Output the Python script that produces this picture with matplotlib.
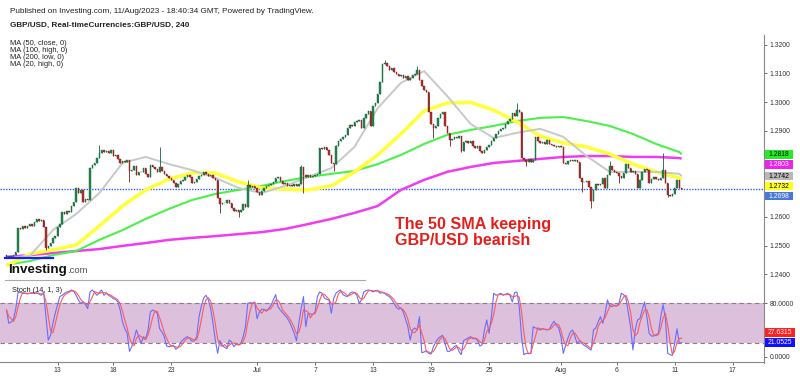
import numpy as np
import pandas as pd
import matplotlib
matplotlib.use('Agg')
import matplotlib.pyplot as plt
from matplotlib.patches import Rectangle
from matplotlib.lines import Line2D

plt.rcParams['font.family'] = ['Liberation Sans', 'DejaVu Sans']

# GBP/USD 4h closes (7 Jun 12:00 -> 11 Aug 12:00)
closes = [
    1.2460, 1.2464, 1.2457, 1.2467, 1.2478, 1.2561, 1.2558, 1.2568, 1.2561, 1.2568,
    1.2575, 1.2568, 1.2582, 1.2593, 1.2586, 1.2589, 1.2566, 1.2491, 1.2499, 1.2509,
    1.2527, 1.2533, 1.2565, 1.2575, 1.2617, 1.2610, 1.2621, 1.2617, 1.2638, 1.2652,
    1.2701, 1.2683, 1.2694, 1.2652, 1.2662, 1.2659, 1.2770, 1.2781, 1.2788, 1.2805,
    1.2823, 1.2833, 1.2826, 1.2830, 1.2823, 1.2833, 1.2812, 1.2816, 1.2802, 1.2788,
    1.2795, 1.2791, 1.2798, 1.2760, 1.2763, 1.2777, 1.2746, 1.2757, 1.2757, 1.2770,
    1.2750, 1.2739, 1.2781, 1.2774, 1.2767, 1.2757, 1.2774, 1.2760, 1.2750, 1.2743,
    1.2736, 1.2729, 1.2718, 1.2704, 1.2715, 1.2725, 1.2729, 1.2739, 1.2746, 1.2739,
    1.2718, 1.2722, 1.2732, 1.2743, 1.2746, 1.2757, 1.2750, 1.2743, 1.2746, 1.2736,
    1.2729, 1.2666, 1.2645, 1.2649, 1.2649, 1.2659, 1.2649, 1.2631, 1.2621, 1.2624,
    1.2617, 1.2624, 1.2645, 1.2635, 1.2711, 1.2704, 1.2708, 1.2701, 1.2687, 1.2676,
    1.2690, 1.2701, 1.2708, 1.2711, 1.2715, 1.2722, 1.2736, 1.2739, 1.2725, 1.2715,
    1.2718, 1.2708, 1.2711, 1.2708, 1.2715, 1.2708, 1.2715, 1.2774, 1.2746, 1.2739,
    1.2746, 1.2739, 1.2743, 1.2746, 1.2750, 1.2840, 1.2837, 1.2844, 1.2833, 1.2816,
    1.2788, 1.2784, 1.2847, 1.2865, 1.2872, 1.2879, 1.2885, 1.2910, 1.2921, 1.2917,
    1.2931, 1.2934, 1.2938, 1.2910, 1.2945, 1.2959, 1.2969, 1.2917, 1.2986, 1.2997,
    1.3028, 1.3070, 1.3133, 1.3136, 1.3126, 1.3112, 1.3119, 1.3105, 1.3098, 1.3091,
    1.3094, 1.3084, 1.3091, 1.3077, 1.3084, 1.3094, 1.3098, 1.3112, 1.3077, 1.3056,
    1.3042, 1.3035, 1.2966, 1.2924, 1.2910, 1.2917, 1.2945, 1.2959, 1.2966, 1.2917,
    1.2893, 1.2868, 1.2872, 1.2879, 1.2875, 1.2882, 1.2830, 1.2861, 1.2865, 1.2858,
    1.2865, 1.2847, 1.2840, 1.2847, 1.2830, 1.2823, 1.2833, 1.2844, 1.2851, 1.2865,
    1.2875, 1.2889, 1.2900, 1.2907, 1.2910, 1.2924, 1.2934, 1.2941, 1.2962, 1.2952,
    1.2972, 1.2966, 1.2805, 1.2798, 1.2791, 1.2802, 1.2791, 1.2798, 1.2879, 1.2865,
    1.2858, 1.2861, 1.2854, 1.2868, 1.2854, 1.2851, 1.2847, 1.2844, 1.2847, 1.2844,
    1.2788, 1.2784, 1.2795, 1.2798, 1.2795, 1.2798, 1.2791, 1.2736, 1.2722, 1.2722,
    1.2725, 1.2704, 1.2655, 1.2694, 1.2715, 1.2711, 1.2715, 1.2736, 1.2701, 1.2746,
    1.2777, 1.2763, 1.2757, 1.2753, 1.2743, 1.2736, 1.2753, 1.2784, 1.2770, 1.2757,
    1.2760, 1.2750, 1.2701, 1.2729, 1.2757, 1.2767, 1.2763, 1.2718, 1.2732, 1.2739,
    1.2732, 1.2729, 1.2736, 1.2763, 1.2718, 1.2676, 1.2673, 1.2680, 1.2701, 1.2729,
    1.2701, 1.2698,
]
first_open = 1.2466

# the longer wicks that stand out (bar index -> price)
wick_highs = {40: 1.2851, 66: 1.2845, 104: 1.2729, 127: 1.2781, 142: 1.2851,
              163: 1.3147, 177: 1.3126, 220: 1.2998, 260: 1.2795, 283: 1.2822}
wick_lows = {17: 1.2485, 53: 1.2723, 92: 1.2614, 100: 1.2601, 128: 1.2683,
             141: 1.2760, 184: 1.2875, 191: 1.2847, 196: 1.2825, 224: 1.2777,
             248: 1.2688, 252: 1.2630, 264: 1.2718, 285: 1.2670}

# moving averages, one value every 10 bars plus the last bar
ma_step = 10
ma20_high = [1.2457, 1.2464, 1.2554, 1.2610, 1.2683, 1.2788, 1.2809, 1.2784, 1.2763, 1.2736,
             1.2701, 1.2683, 1.2708, 1.2739, 1.2770, 1.2844, 1.2979, 1.3067, 1.3108, 1.3021,
             1.2924, 1.2875, 1.2893, 1.2907, 1.2879, 1.2812, 1.2757, 1.2757, 1.2757, 1.2750,
             1.2742]
ma50_close = [1.2429, 1.2471, 1.2485, 1.2502, 1.2568, 1.2638, 1.2694, 1.2732, 1.2753, 1.2753,
              1.2722, 1.2701, 1.2697, 1.2694, 1.2708, 1.2757, 1.2816, 1.2889, 1.2969, 1.2997,
              1.2999, 1.2972, 1.2931, 1.2882, 1.2858, 1.2844, 1.2819, 1.2784, 1.2757, 1.2736,
              1.2732]
ma100_high = [1.2433, 1.2446, 1.2467, 1.2481, 1.2520, 1.2554, 1.2593, 1.2628, 1.2659, 1.2680,
              1.2694, 1.2708, 1.2725, 1.2739, 1.2750, 1.2760, 1.2784, 1.2816, 1.2854, 1.2886,
              1.2903, 1.2917, 1.2934, 1.2945, 1.2948, 1.2934, 1.2917, 1.2889, 1.2854, 1.2826,
              1.2818]
ma200_low = [1.2460, 1.2467, 1.2474, 1.2481, 1.2488, 1.2499, 1.2509, 1.2520, 1.2527, 1.2533,
             1.2540, 1.2547, 1.2558, 1.2575, 1.2593, 1.2614, 1.2638, 1.2694, 1.2729, 1.2757,
             1.2774, 1.2788, 1.2795, 1.2802, 1.2809, 1.2812, 1.2812, 1.2809, 1.2809, 1.2805,
             1.2803]

# Stoch %K (14, 1), one value per bar
stoch_k = [
    70, 50, 52, 56, 72, 97, 96, 95, 95, 94, 95, 96, 96, 95, 94, 92, 97, 60, 25, 32,
    50, 65, 78, 90, 92, 95, 97, 98, 100, 98, 92, 85, 80, 82, 78, 72, 97, 100, 96, 92,
    96, 100, 92, 95, 92, 90, 87, 86, 82, 70, 52, 42, 35, 8, 15, 27, 40, 30, 20, 30,
    27, 40, 67, 70, 68, 65, 42, 37, 30, 16, 15, 16, 17, 11, 14, 21, 25, 28, 30, 27,
    23, 24, 30, 60, 76, 88, 92, 85, 72, 50, 25, 5, 24, 17, 14, 12, 25, 22, 15, 19,
    18, 20, 30, 45, 80, 81, 80, 82, 57, 67, 71, 71, 68, 72, 77, 85, 93, 75, 70, 66,
    62, 58, 52, 44, 35, 24, 50, 72, 90, 45, 65, 64, 63, 67, 90, 97, 95, 88, 86, 85,
    65, 87, 95, 98, 100, 93, 91, 90, 95, 97, 96, 92, 80, 85, 97, 99, 100, 99, 97, 99,
    99, 95, 96, 95, 92, 90, 86, 80, 74, 71, 73, 67, 56, 45, 25, 40, 43, 40, 60, 6,
    7, 9, 5, 4, 15, 22, 27, 30, 32, 20, 8, 8, 12, 15, 17, 8, 3, 24, 26, 28,
    30, 27, 27, 25, 16, 18, 40, 55, 35, 60, 95, 92, 93, 95, 92, 93, 95, 92, 82, 96,
    97, 75, 30, 3, 5, 5, 5, 45, 43, 42, 40, 42, 41, 40, 41, 48, 53, 47, 43, 30,
    5, 17, 28, 37, 40, 30, 20, 24, 20, 17, 15, 12, 10, 40, 43, 52, 60, 50, 65, 85,
    76, 75, 77, 76, 80, 95, 93, 88, 67, 45, 10, 40, 55, 57, 70, 82, 60, 35, 31, 31,
    33, 35, 60, 78, 57, 5, 3, 2, 20, 41.842, 20, 21.0525,
]

tick_dates = ['2023-06-13', '2023-06-18', '2023-06-23', '2023-07-01', '2023-07-07', '2023-07-13',
              '2023-07-19', '2023-07-25', '2023-08-01', '2023-08-06', '2023-08-11', '2023-08-17']
tick_labels = ['13', '18', '23', 'Jul', '7', '13', '19', '25', 'Aug', '6', '11', '17']

W, H = 800, 376


def bar_times(start, count):
    # 4h FX bars: six a day Mon-Fri, one on Sunday evening
    out = []
    t = pd.Timestamp(start)
    while len(out) < count:
        if t.weekday() < 5 or (t.weekday() == 6 and t.hour == 20):
            out.append(t)
        t += pd.Timedelta(hours=4)
    return pd.DatetimeIndex(out)


def fx(x):
    return x / W


def fy(y):
    return 1 - y / H


def tag(fig, yc, text, bg, fg, width=28):
    fig.add_artist(Rectangle((fx(764.5), fy(yc + 4.3)), width / W, 8.6 / H,
                             transform=fig.transFigure, facecolor=bg, edgecolor='none', zorder=5))
    fig.text(fx(764.5 + width / 2), fy(yc), text, ha='center', va='center',
             fontsize=4.9, color=fg, zorder=6)


n = len(closes)
x = np.arange(n)
c = np.array(closes)
o = np.r_[first_open, c[:-1]]
body_lo = np.minimum(o, c)
hi = np.maximum(o, c)
lo = body_lo.copy()
for i, v in wick_highs.items():
    hi[i] = v
for i, v in wick_lows.items():
    lo[i] = v
up = c >= o
body_col = np.where(up, '#1f8a4c', '#b3302c')
edge_col = np.where(up, '#14633a', '#7d1f1c')

ma_x = np.r_[np.arange(0, n, ma_step), n - 1]

times = bar_times('2023-06-07 12:00', 330)
tick_pos = [int(np.searchsorted(times, pd.Timestamp(d))) for d in tick_dates]

fig = plt.figure(figsize=(8, 3.76), dpi=100)
fig.patch.set_facecolor('white')

xlim = (-2.8, 326.5)
ax = fig.add_axes([0, fy(281), fx(764), (281 - 35) / H])
ax2 = fig.add_axes([0, fy(362), fx(764), (362 - 283) / H])

# price panel
ax.plot(ma_x, ma200_low, color='#f03cf0', lw=1.8, zorder=2, solid_capstyle='butt')
ax.plot(ma_x, ma100_high, color='#4cf04c', lw=1.5, zorder=2, solid_capstyle='butt')
ax.plot(ma_x, ma50_close, color='#ffff40', lw=2.6, zorder=2, solid_capstyle='butt')
ax.plot(ma_x, ma20_high, color='#c8c8c8', lw=1.4, zorder=2, solid_capstyle='butt')
ax.vlines(x, lo, hi, colors=edge_col, lw=0.6, zorder=3)
ax.bar(x, np.maximum(np.abs(c - o), 0.00012), bottom=body_lo,
       width=0.62, color=body_col, edgecolor=edge_col, lw=0.3, zorder=4)
ax.axhline(c[-1], color='#2a5cff', lw=1.0, ls=(0, (1, 1)), zorder=1)

ax.set_xlim(xlim)
ax.set_ylim(1.23767, 1.32338)
ax.set_yticks(np.arange(1.24, 1.3201, 0.01))
ax.yaxis.tick_right()
ax.yaxis.set_major_formatter(matplotlib.ticker.FormatStrFormatter('%.4f'))
ax.tick_params(axis='y', labelsize=4.9, colors='#333333', length=2, width=0.5, pad=2)
ax.tick_params(axis='x', bottom=False, labelbottom=False)
for s in ax.spines.values():
    s.set_visible(False)

# stochastic panel
d = pd.Series(stoch_k).rolling(3, min_periods=1).mean()
ax2.axhspan(20, 80, color='#dcc0dc', lw=0, zorder=0)
ax2.axhline(80, color='#8a7a8a', lw=0.8, ls=(0, (4, 3)), zorder=1)
ax2.axhline(20, color='#8a7a8a', lw=0.8, ls=(0, (4, 3)), zorder=1)
ax2.plot(x, stoch_k, color='#6b6bff', lw=0.8, zorder=2)
ax2.plot(x, d, color='#ff5a5a', lw=0.8, zorder=3)
ax2.set_xlim(xlim)
ax2.set_ylim(-7.94, 110.4)
ax2.set_yticks([0, 80])
ax2.yaxis.tick_right()
ax2.yaxis.set_major_formatter(matplotlib.ticker.FormatStrFormatter('%.4f'))
ax2.tick_params(axis='y', labelsize=4.9, colors='#333333', length=2, width=0.5, pad=2)
ax2.set_xticks(tick_pos)
ax2.set_xticklabels(tick_labels)
ax2.tick_params(axis='x', labelsize=4.9, colors='#333333', length=2, width=0.5, pad=1.5)
for s in ax2.spines.values():
    s.set_visible(False)
ax2.spines['bottom'].set_visible(True)
ax2.spines['bottom'].set_color('#888888')
ax2.spines['bottom'].set_linewidth(0.8)

# right scale line and pane separator
fig.add_artist(Line2D([fx(764), fx(764)], [fy(35), fy(363)], color='#888888', lw=0.8))
fig.add_artist(Line2D([fx(5), fx(365)], [fy(280), fy(280)], color='#aaaaaa', lw=0.8))
fig.add_artist(Line2D([fx(5), fx(53)], [fy(258), fy(258)], color='#1a1aff', lw=1.6))

# header
fig.text(fx(10), fy(11.5), 'Published on Investing.com, 11/Aug/2023 - 18:40:34 GMT, Powered by TradingView.',
         fontsize=5.85, color='#222222', va='center')
fig.text(fx(10), fy(25), 'GBP/USD, Real-timeCurrencies:GBP/USD, 240',
         fontsize=5.9, fontweight='bold', color='#222222', va='center')
for k, s in enumerate(['MA (50, close, 0)', 'MA (100, high, 0)', 'MA (200, low, 0)', 'MA (20, high, 0)']):
    fig.text(fx(10), fy(43.5 + 7 * k), s, fontsize=5.4, color='#222222', va='center', linespacing=1.0)
fig.text(fx(12), fy(291), 'Stoch (14, 1, 3)', fontsize=5.3, color='#222222', va='center')

# watermark
fig.text(fx(8), fy(273), 'Investing', fontsize=9.6, fontweight='bold', color='#111111', va='baseline')
fig.text(fx(67), fy(273), '.com', fontsize=6.8, color='#555555', va='baseline')

# annotation
fig.text(fx(395), fy(224.5), 'The 50 SMA keeping', fontsize=11.6, fontweight='bold', color='#e3201b', va='center')
fig.text(fx(395), fy(240.5), 'GBP/USD bearish', fontsize=11.6, fontweight='bold', color='#e3201b', va='center')

# last value tags on the price scale (stacked downwards)
fig.canvas.draw()
price_tags = [(ma100_high[-1], '#22ee22', 'black'), (ma200_low[-1], '#ee22ee', 'white'),
              (ma20_high[-1], '#b8b8b8', 'black'), (ma50_close[-1], '#ffff22', 'black'),
              (c[-1], '#4a78d8', 'white')]
tag_ys = []
prev = -100
for v, bg, fg in sorted(price_tags, key=lambda t: -t[0]):
    yc = H - ax.transData.transform((0, v))[1]
    yc = max(yc, prev + 10)
    tag(fig, yc, f'{v:.4f}', bg, fg)
    tag_ys.append(yc)
    prev = yc

# scale labels hidden under the tags
for val, lab in zip(ax.get_yticks(), ax.get_yticklabels()):
    ty = H - ax.transData.transform((0, val))[1]
    if any(abs(ty - t) < 9 for t in tag_ys):
        lab.set_visible(False)

stoch_tags = [(stoch_k[-1], '#1010ff', 'white'), (d.iloc[-1], '#ff2020', 'white')]
prev = 1000
for v, bg, fg in sorted(stoch_tags, key=lambda t: t[0]):
    yc = H - ax2.transData.transform((0, v))[1]
    yc = min(yc, prev - 10)
    tag(fig, yc, f'{v:.4f}', bg, fg, width=30)
    prev = yc

fig.savefig('out.png', dpi=100)
